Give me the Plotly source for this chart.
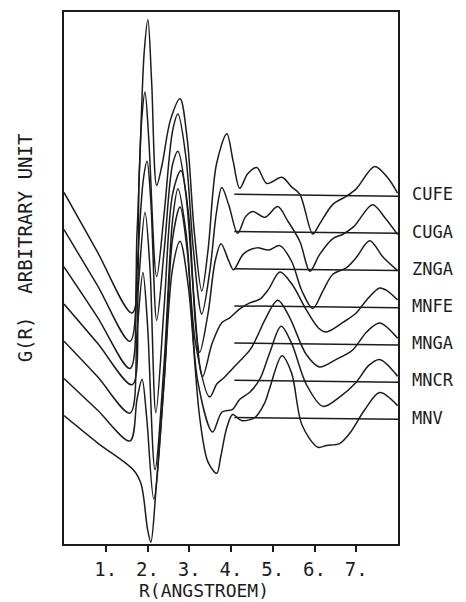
import plotly.graph_objects as go

# Radial distance R (Angstrom) and G(R) (arbitrary units, relative to each curve's baseline)
names = ["CUFE", "CUGA", "ZNGA", "MNFE", "MNGA", "MNCR", "MNV"]
offsets = [6, 5, 4, 3, 2, 1, 0]

r_cufe = [0, 0.8, 1.63, 1.80, 1.92, 2.01, 2.10, 2.22, 2.35, 2.55, 2.78, 2.95, 3.12, 3.30, 3.45, 3.65, 3.90, 4.05, 4.21, 4.40, 4.62, 4.86, 5.22, 5.45, 5.65, 5.96, 6.12, 6.44, 6.77, 7.01, 7.44, 7.75, 7.99]
g_cufe = [0.05, -1.55, -3.19, 0.5, 3.8, 4.69, 3.0, 0.24, 0.8, 2.0, 2.57, 1.5, -1.0, -2.60, -1.5, 0.8, 1.63, 0.9, 0.16, 0.55, 0.72, 0.29, 0.46, 0.2, 0.0, -1.07, -0.80, -0.27, -0.05, 0.16, 0.75, 0.45, 0.03]

r_cuga = [0, 0.8, 1.58, 1.75, 1.86, 1.94, 2.03, 2.22, 2.40, 2.60, 2.73, 2.92, 3.10, 3.30, 3.50, 3.65, 3.78, 3.95, 4.16, 4.35, 4.52, 4.81, 5.12, 5.35, 5.65, 5.89, 6.12, 6.44, 6.67, 6.94, 7.39, 7.70, 7.99]
g_cuga = [0.05, -1.45, -2.95, 0.0, 3.0, 3.75, 2.5, -1.21, 0.5, 2.7, 3.16, 2.0, -0.5, -2.22, -1.0, 0.5, 1.18, 0.7, -0.05, 0.4, 0.54, 0.38, 0.67, 0.3, -0.27, -1.07, -0.62, -0.19, -0.08, 0.13, 0.72, 0.35, -0.08]

r_znga = [0, 0.8, 1.58, 1.75, 1.90, 1.99, 2.08, 2.22, 2.40, 2.60, 2.73, 2.92, 3.10, 3.25, 3.45, 3.62, 3.76, 3.95, 4.06, 4.30, 4.62, 4.90, 5.17, 5.45, 5.70, 5.96, 6.20, 6.44, 6.77, 7.00, 7.32, 7.65, 7.99]
g_znga = [0.05, -1.3, -2.68, 0.0, 2.4, 2.89, 1.8, -1.39, 0.5, 2.8, 3.16, 2.0, -0.6, -2.25, -1.2, 0.2, 0.67, 0.2, -0.03, 0.4, 0.56, 0.5, 0.62, 0.2, -0.6, -1.07, -0.6, -0.15, 0.03, 0.3, 0.75, 0.3, -0.05]

r_mnfe = [0, 0.8, 1.63, 1.78, 1.94, 2.06, 2.20, 2.40, 2.60, 2.80, 2.98, 3.15, 3.32, 3.55, 3.78, 3.97, 4.21, 4.45, 4.69, 4.90, 5.17, 5.45, 5.80, 6.10, 6.29, 6.70, 7.00, 7.25, 7.56, 7.75, 7.99]
g_mnfe = [0.05, -1.0, -2.12, 0.5, 2.52, 1.0, -2.87, 0.0, 3.0, 3.64, 2.5, -0.5, -1.90, -1.0, -0.45, -0.32, -0.08, 0.08, 0.18, 0.45, 0.91, 0.6, -0.1, -0.6, -0.70, -0.43, -0.19, 0.16, 0.48, 0.40, 0.16]

r_mnga = [0, 0.8, 1.58, 1.75, 1.89, 2.00, 2.18, 2.40, 2.60, 2.73, 2.92, 3.15, 3.49, 3.66, 3.85, 4.16, 4.45, 4.62, 4.81, 5.12, 5.40, 5.80, 6.12, 6.50, 6.90, 7.25, 7.56, 7.99]
g_mnga = [0.05, -0.9, -1.88, 0.3, 1.90, 0.5, -3.40, -0.5, 3.3, 4.15, 3.0, 0.0, -1.45, -1.1, -0.91, -0.54, -0.19, 0.16, 0.62, 1.15, 0.7, -0.3, -0.64, -0.45, -0.2, 0.3, 0.54, 0.13]

r_mncr = [0, 0.8, 1.58, 1.75, 1.87, 1.98, 2.15, 2.40, 2.60, 2.78, 2.95, 3.20, 3.56, 3.78, 4.04, 4.21, 4.45, 4.69, 4.93, 5.20, 5.45, 5.80, 6.20, 6.60, 7.00, 7.30, 7.56, 7.99]
g_mncr = [0.05, -0.8, -1.63, -0.5, 0.03, -1.0, -3.19, 0.0, 3.8, 4.66, 3.5, 0.0, -1.39, -0.86, -0.78, -0.51, -0.32, 0.03, 0.75, 1.45, 1.0, -0.1, -0.70, -0.45, -0.05, 0.40, 0.56, 0.11]

r_mnv = [0, 0.8, 1.67, 1.85, 2.00, 2.08, 2.20, 2.40, 2.60, 2.78, 2.98, 3.25, 3.45, 3.66, 3.75, 3.90, 4.04, 4.25, 4.57, 4.81, 4.93, 5.22, 5.45, 5.70, 6.08, 6.29, 6.60, 6.84, 7.20, 7.56, 7.99]
g_mnv = [0.05, -0.68, -1.42, -1.8, -3.0, -3.35, -2.0, 1.0, 4.0, 4.74, 3.5, 0.0, -1.2, -1.50, -1.08, -0.27, 0.08, -0.08, 0.0, 0.4, 0.8, 1.66, 1.2, -0.2, -0.80, -0.75, -0.70, -0.43, 0.2, 0.67, 0.32]

r_list = [r_cufe, r_cuga, r_znga, r_mnfe, r_mnga, r_mncr, r_mnv]
g_list = [g_cufe, g_cuga, g_znga, g_mnfe, g_mnga, g_mncr, g_mnv]

baseline_r = [4.08, 8.0]
baseline_tilt = [0.0, -0.05]

x_ticks = [1, 2, 3, 4, 5, 6, 7]
x_ticktext = ["1.", "2.", "3.", "4.", "5.", "6.", "7."]

INK = "#1c1c1c"
MONO = "DejaVu Sans Mono"

fig = go.Figure()
for name, off, r, g in zip(names, offsets, r_list, g_list):
    fig.add_trace(go.Scatter(
        x=r, y=[v + off for v in g], mode="lines", name=name,
        line=dict(color=INK, width=1.5, shape="spline", smoothing=0.9),
        showlegend=False, hoverinfo="skip"))
    fig.add_trace(go.Scatter(
        x=baseline_r, y=[off + t for t in baseline_tilt], mode="lines",
        line=dict(color=INK, width=1.5), showlegend=False, hoverinfo="skip"))
    fig.add_annotation(x=1.0, xref="paper", xanchor="left", xshift=12,
                       y=off, yref="y", yanchor="middle", text=name,
                       showarrow=False, font=dict(family=MONO, size=17, color=INK))

fig.add_annotation(x=-0.155, xref="paper", y=-3.4 + (10.9 + 3.4) * (1 - 247 / 534 + 10 / 534), yref="y",
                   text="G(R)  ARBITRARY UNIT", textangle=-90, showarrow=False,
                   font=dict(family=MONO, size=19, color=INK))
fig.add_annotation(x=(204 - 64) / 334, xref="paper", y=0.0, yref="paper", yshift=-34,
                   yanchor="top", text="R(ANGSTROEM)", showarrow=False,
                   font=dict(family=MONO, size=18, color=INK))

fig.update_layout(
    width=466, height=602, margin=dict(l=64, r=68, t=10, b=58),
    paper_bgcolor="white", plot_bgcolor="white",
    xaxis=dict(range=[0, 8.0], tickvals=x_ticks, ticktext=x_ticktext,
               ticks="outside", ticklen=6, tickwidth=1.5, tickcolor=INK,
               showline=True, linecolor=INK, linewidth=2, mirror=True,
               showgrid=False, zeroline=False, ticklabelstandoff=1,
               tickfont=dict(family=MONO, size=19, color=INK)),
    yaxis=dict(range=[-3.4, 10.9], showticklabels=False, ticks="",
               showline=True, linecolor=INK, linewidth=2, mirror=True,
               showgrid=False, zeroline=False),
)

fig.write_html("out.html")
